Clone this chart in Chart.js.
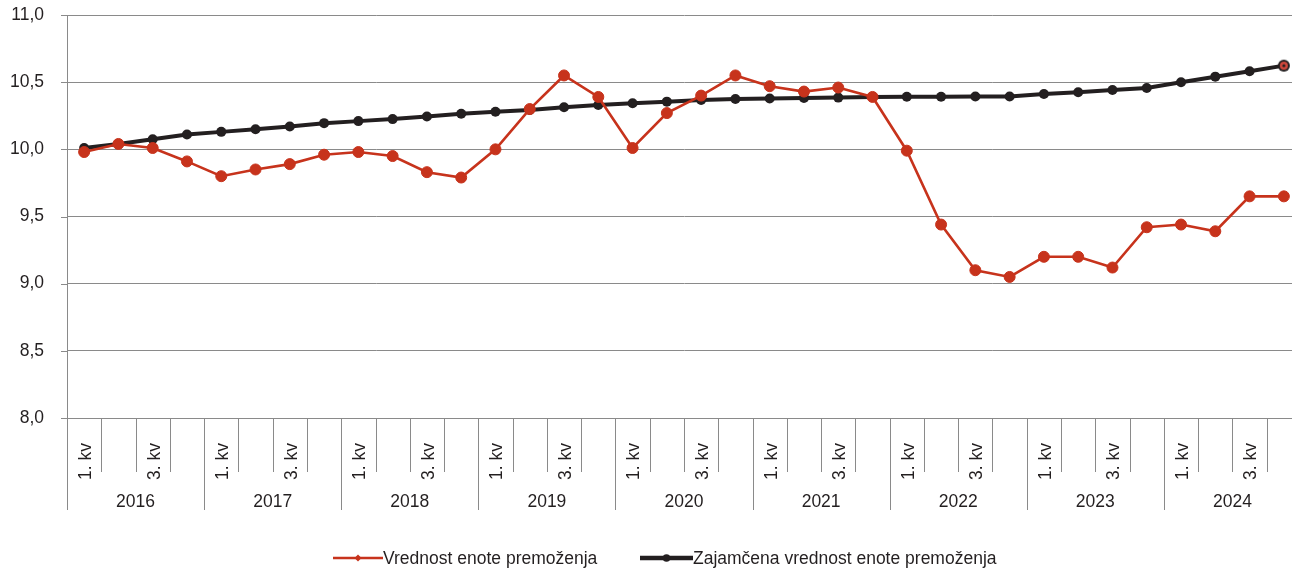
<!DOCTYPE html>
<html>
<head>
<meta charset="utf-8">
<script src="https://cdn.jsdelivr.net/npm/chart.js@4/dist/chart.umd.min.js"></script>
<style>
html,body{margin:0;padding:0;background:#fff;overflow:hidden;}
#wrap{position:relative;width:1320px;height:569px;}
</style>
</head>
<body>
<div id="wrap"><canvas id="c"></canvas></div>
<script>
// ---- data ----
const years = ['2016','2017','2018','2019','2020','2021','2022','2023','2024'];
const quarterLabels = ['1. kv', '', '3. kv', ''];
const categories = years.flatMap(y => ['Q1','Q2','Q3','Q4'].map(q => y + ' ' + q));

const vrednost = [9.98, 10.04, 10.01, 9.91, 9.80, 9.85, 9.89, 9.96,
                  9.98, 9.95, 9.83, 9.79, 10.00, 10.30, 10.55, 10.39,
                  10.01, 10.27, 10.40, 10.55, 10.47, 10.43, 10.46, 10.39,
                  9.99, 9.44, 9.10, 9.05, 9.20, 9.20, 9.12, 9.42,
                  9.44, 9.39, 9.65, 9.65];
const zajamcena = [10.01, 10.04, 10.075, 10.11, 10.13, 10.15, 10.17, 10.195,
                   10.21, 10.225, 10.245, 10.265, 10.28, 10.293, 10.313, 10.33,
                   10.343, 10.355, 10.368, 10.375, 10.378, 10.383, 10.385, 10.39,
                   10.392, 10.392, 10.393, 10.393, 10.412, 10.425, 10.442, 10.457,
                   10.50, 10.541, 10.581, 10.623];
const seriesNames = ['Vrednost enote premoženja', 'Zajamčena vrednost enote premoženja'];
const yMin = 8.0, yMax = 11.0, yStep = 0.5;

// ---- styles ----
const RED = '#c7331c';
const BLACK = '#231f20';
const GRID = '#8a8a8a';
const TEXT = '#231f20';
const FONT = '"Liberation Sans", Arial, Helvetica, sans-serif';
const FS = 17.5;

// special last marker of guaranteed series
const lastMarker = (() => {
  const cv = document.createElement('canvas');
  cv.width = 14; cv.height = 14;
  const g = cv.getContext('2d');
  g.fillStyle = BLACK; g.beginPath(); g.arc(7,7,6,0,Math.PI*2); g.fill();
  g.fillStyle = '#d0483c'; g.beginPath(); g.arc(7,7,4,0,Math.PI*2); g.fill();
  g.fillStyle = BLACK; g.beginPath(); g.arc(7,7,1.6,0,Math.PI*2); g.fill();
  return cv;
})();
const blackStyles = zajamcena.map((v,i) => i === zajamcena.length - 1 ? lastMarker : 'circle');

const axisPlugin = {
  id: 'customAxis',
  afterDraw(chart) {
    const ctx = chart.ctx;
    const xs = chart.scales.x;
    const ys = chart.scales.y;
    const area = chart.chartArea;
    const half = (xs.getPixelForValue(1) - xs.getPixelForValue(0)) / 2;
    const y0 = area.bottom;
    ctx.save();
    ctx.strokeStyle = GRID;
    ctx.lineWidth = 1;
    // short y tick marks left of the axis
    ys.ticks.forEach(t => {
      const y = Math.round(ys.getPixelForValue(t.value)) + 0.5;
      ctx.beginPath();
      ctx.moveTo(area.left - 6, y);
      ctx.lineTo(area.left, y);
      ctx.stroke();
    });
    // x category separators
    for (let k = 0; k <= categories.length; k++) {
      const x = Math.round(xs.getPixelForValue(k) - half) + 0.5;
      const len = (k % 4 === 0) ? 92 : 54;
      ctx.beginPath();
      ctx.moveTo(x, y0);
      ctx.lineTo(x, y0 + len);
      ctx.stroke();
    }
    ctx.fillStyle = TEXT;
    ctx.font = FS + 'px ' + FONT;
    // rotated quarter labels
    for (let i = 0; i < categories.length; i++) {
      const lab = quarterLabels[i % 4];
      if (!lab) continue;
      const x = xs.getPixelForValue(i) + 2;
      ctx.save();
      ctx.translate(x, y0 + 62);
      ctx.rotate(-Math.PI / 2);
      ctx.textAlign = 'left';
      ctx.textBaseline = 'middle';
      ctx.fillText(lab, 0, 0);
      ctx.restore();
    }
    // year labels
    ctx.textAlign = 'center';
    ctx.textBaseline = 'middle';
    years.forEach((yr, j) => {
      const x = (xs.getPixelForValue(j * 4) + xs.getPixelForValue(j * 4 + 3)) / 2;
      ctx.fillText(yr, x, y0 + 84);
    });
    // legend
    const ly = 558;
    const items = [
      {x0: 333, x1: 383, color: RED, lw: 2.5, marker: 'diamond'},
      {x0: 640, x1: 693, color: BLACK, lw: 4.5, marker: 'circle'}
    ];
    items.forEach((it, idx) => {
      ctx.strokeStyle = it.color;
      ctx.fillStyle = it.color;
      ctx.lineWidth = it.lw;
      ctx.beginPath();
      ctx.moveTo(it.x0, ly);
      ctx.lineTo(it.x1, ly);
      ctx.stroke();
      const mx = (it.x0 + it.x1) / 2;
      ctx.beginPath();
      if (it.marker === 'diamond') {
        ctx.moveTo(mx, ly - 3.5); ctx.lineTo(mx + 3.5, ly); ctx.lineTo(mx, ly + 3.5); ctx.lineTo(mx - 3.5, ly);
        ctx.closePath();
      } else {
        ctx.arc(mx, ly, 3.8, 0, Math.PI * 2);
      }
      ctx.fill();
      ctx.fillStyle = TEXT;
      ctx.textAlign = 'left';
      ctx.textBaseline = 'middle';
      ctx.fillText(chart.data.datasets[idx].label, it.x1, ly + 1);
    });
    ctx.restore();
  }
};

new Chart(document.getElementById('c'), {
  type: 'line',
  data: {
    labels: categories,
    datasets: [
      {
        label: seriesNames[0],
        data: vrednost,
        borderColor: RED,
        backgroundColor: RED,
        pointBackgroundColor: RED,
        pointBorderColor: RED,
        borderWidth: 2.6,
        pointRadius: 5.5,
        pointBorderWidth: 1,
        pointStyle: 'circle',
        tension: 0
      },
      {
        label: seriesNames[1],
        data: zajamcena,
        borderColor: BLACK,
        backgroundColor: BLACK,
        pointBackgroundColor: BLACK,
        pointBorderColor: BLACK,
        borderWidth: 4,
        pointRadius: 5,
        pointBorderWidth: 0,
        pointStyle: blackStyles,
        tension: 0
      }
    ]
  },
  options: {
    responsive: true,
    maintainAspectRatio: false,
    animation: false,
    layout: { padding: { top: 15, right: 19, bottom: 0, left: 0 } },
    plugins: { legend: { display: false }, tooltip: { enabled: false } },
    scales: {
      x: {
        type: 'category',
        offset: true,
        ticks: { display: false },
        grid: { display: false, drawOnChartArea: false },
        border: { display: false },
        afterFit(scale) { scale.height = 151; }
      },
      y: {
        min: yMin,
        max: yMax,
        ticks: {
          stepSize: yStep,
          padding: 0,
          color: TEXT,
          font: { family: FONT, size: FS },
          callback: v => Number(v).toFixed(1).replace('.', ',')
        },
        grid: { color: GRID, lineWidth: 1, tickLength: 23, drawTicks: true, tickColor: 'rgba(0,0,0,0)' },
        border: { display: true, color: GRID, width: 1 },
        afterFit(scale) { scale.width = 67; }
      }
    }
  },
  plugins: [axisPlugin]
});
</script>
</body>
</html>
